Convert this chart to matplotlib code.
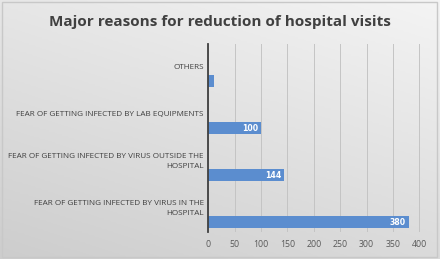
import numpy as np
import matplotlib.pyplot as plt
from matplotlib.colors import LinearSegmentedColormap

categories = ['OTHERS',
              'FEAR OF GETTING INFECTED BY LAB EQUIPMENTS',
              'FEAR OF GETTING INFECTED BY VIRUS OUTSIDE THE\nHOSPITAL',
              'FEAR OF GETTING INFECTED BY VIRUS IN THE\nHOSPITAL']
values = [12, 100, 144, 380]
value_labels = ['', '100', '144', '380']
x_ticks = [0, 50, 100, 150, 200, 250, 300, 350, 400]

fig = plt.figure(figsize=(4.4, 2.59), dpi=100)

# background gradient (light top-right, darker bottom-left)
bg = fig.add_axes([0, 0, 1, 1], zorder=-10)
gx, gy = np.meshgrid(np.linspace(0, 1, 200), np.linspace(0, 1, 120))
grad = 0.65 * gy + 0.35 * gx
cmap = LinearSegmentedColormap.from_list('bg', ['#cdcdcd', '#f4f4f4'])
bg.imshow(grad, cmap=cmap, origin='lower', aspect='auto', extent=[0, 1, 0, 1])
bg.axis('off')
fig.patches.append(plt.Rectangle((0.004, 0.006), 0.99, 0.988, transform=fig.transFigure,
                                 fill=False, edgecolor='#c8c8c8', linewidth=1))

ax = fig.add_axes([0.473, 0.104, 0.484, 0.726])
ax.patch.set_alpha(0)

pos = np.arange(len(categories))
ax.barh(pos + 0.28, values, height=0.26, color='#5b8dcf', zorder=3)
for p, v, lab in zip(pos, values, value_labels):
    if lab:
        ax.text(v - 6, p + 0.29, lab, ha='right', va='center', color='white',
                fontsize=5.6, fontweight='bold', zorder=4)
for p, c in zip(pos, categories):
    ax.text(-8, p, c, ha='right', va='center', fontsize=5.9, color='#404040',
            family='Open Sans', linespacing=1.55, clip_on=False)

ax.set_ylim(3.5, -0.5)
ax.set_xlim(0, 403)
ax.set_xticks(x_ticks)
ax.set_xticklabels([str(t) for t in x_ticks], fontsize=6.3, color='#595959', family='Open Sans')
ax.tick_params(axis='x', length=0, pad=6)
ax.set_yticks([])
ax.grid(axis='x', color='#c4c4c4', linewidth=0.7, zorder=0)
for s in ['top', 'right', 'bottom']:
    ax.spines[s].set_visible(False)
ax.spines['left'].set_color('#404040')
ax.spines['left'].set_linewidth(1.3)
ax.spines['left'].set_zorder(5)

fig.text(0.5, 0.915, 'Major reasons for reduction of hospital visits', ha='center', va='center',
         fontsize=11, fontweight='bold', color='#404040', family='Open Sans')

fig.savefig('out.png', dpi=100)
